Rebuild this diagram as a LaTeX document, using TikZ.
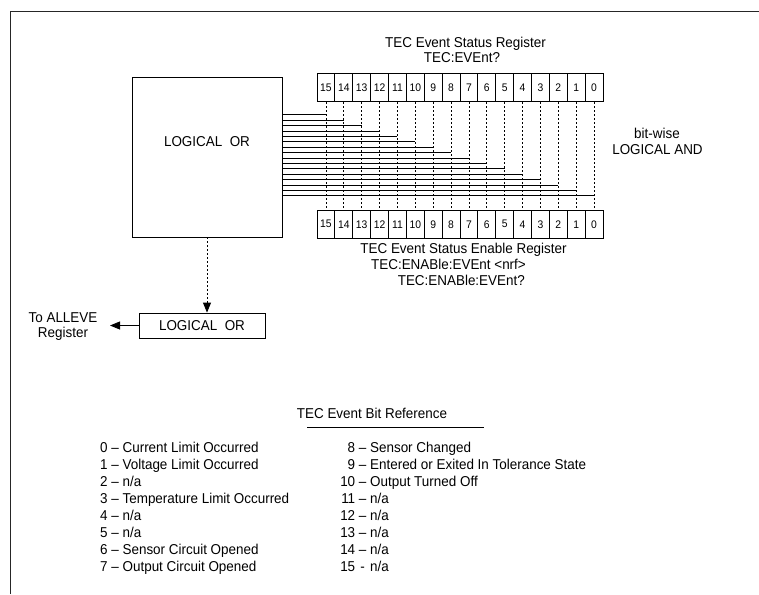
\documentclass[tikz,border=0pt]{standalone}
\usepackage{fontspec}
\setmainfont{Liberation Sans}[FakeStretch=0.94]
\usetikzlibrary{arrows.meta}
\begin{document}
\begin{tikzpicture}[x=1pt,y=-1pt,
  txt/.style={inner sep=0pt, font=\fontsize{14.3}{15}\selectfont},
  cell/.style={draw, line width=0.8pt, minimum width=17.875pt, minimum height=28pt, inner sep=0pt, font=\fontsize{11}{12}\selectfont},
  boxstyle/.style={draw, line width=0.8pt, inner sep=0pt},
  dotline/.style={line width=0.8pt, dash pattern=on 2pt off 2pt},
  hline/.style={line width=0.7pt},
  framestyle/.style={line width=0.8pt, black!85},
  tipstyle/.style={-{Triangle[length=10pt,width=8pt]}}]
\useasboundingbox (0,0) rectangle (759,594);
% page frame (open right and bottom)
\coordinate (f1) at (10,594);
\coordinate (f2) at (10,11);
\coordinate (f3) at (759,11);
\draw[framestyle] (f1) -- (f2) -- (f3);

% big OR box
\node[boxstyle, minimum width=150pt, minimum height=160pt] (bigor) at (207,157) {};
\node[txt, anchor=base] (orlab) at (207,146) {LOGICAL\ \ OR};

% registers
\foreach \b in {0,...,15} {
  \pgfmathsetmacro\xx{317+(15-\b+0.5)*17.875}
  \node[cell] (t\b) at (\xx,87.75) {\b};
  \node[cell] (b\b) at (\xx,224.25) {\b};
}
\foreach \b in {0,...,15} {
  \draw[dotline] (t\b.south) -- (b\b.north);
  \pgfmathsetmacro\yy{114.7+(15-\b)*5.4}
  \coordinate (h\b) at (0,\yy);
  \draw[hline] (bigor.east |- h\b) -- (t\b |- h\b);
}

% titles
\node[txt, anchor=base] (st1) at (465.5,48) {TEC Event Status Register};
\node[txt, anchor=base] (st2) at (462,63) {TEC:EVEnt?};
\node[txt, anchor=base] (en1) at (463.5,253) {TEC Event Status Enable Register};
\node[txt, anchor=base east] (en2) at (526,269) {TEC:ENABle:EVEnt <nrf>};
\node[txt, anchor=base east] (en3) at (525,285) {TEC:ENABle:EVEnt?};
\node[txt, anchor=base] (bw1) at (657,138) {bit-wise};
\node[txt, anchor=base] (bw2) at (657.5,154.5) {LOGICAL AND};

% small OR box and arrows
\node[boxstyle, txt, draw, line width=0.8pt, minimum width=126pt, minimum height=25pt] (smor) at (202,325.5) {LOGICAL\ \ OR};
\draw[dotline, tipstyle] (bigor.south) -- (bigor.south |- smor.north);
\coordinate (tip) at (110,325.5);
\draw[line width=0.8pt, tipstyle] (smor.west) -- (tip);
\node[txt, anchor=base] (al1) at (63,322) {To ALLEVE};
\node[txt, anchor=base] (al2) at (63,337) {Register};

% bit reference
\node[txt, anchor=base] (ref) at (372,418) {TEC Event Bit Reference};
\coordinate (u1) at (307,427);
\coordinate (u2) at (484,427);
\draw[line width=0.8pt] (u1) -- (u2);

\node[txt, anchor=base west] (l0) at (100,452) {0 – Current Limit Occurred};
\node[txt, anchor=base west] (l1) at (100,469) {1 – Voltage Limit Occurred};
\node[txt, anchor=base west] (l2) at (100,486) {2 – n/a};
\node[txt, anchor=base west] (l3) at (100,503) {3 – Temperature Limit Occurred};
\node[txt, anchor=base west] (l4) at (100,520) {4 – n/a};
\node[txt, anchor=base west] (l5) at (100,537) {5 – n/a};
\node[txt, anchor=base west] (l6) at (100,554) {6 – Sensor Circuit Opened};
\node[txt, anchor=base west] (l7) at (100,571) {7 – Output Circuit Opened};

\node[txt, anchor=base west] (r8) at (340,452) {\makebox[15pt][r]{8} – Sensor Changed};
\node[txt, anchor=base west] (r9) at (340,469) {\makebox[15pt][r]{9} – Entered or Exited In Tolerance State};
\node[txt, anchor=base west] (r10) at (340,486) {\makebox[15pt][r]{10} – Output Turned Off};
\node[txt, anchor=base west] (r11) at (340,503) {\makebox[15pt][r]{11} – n/a};
\node[txt, anchor=base west] (r12) at (340,520) {\makebox[15pt][r]{12} – n/a};
\node[txt, anchor=base west] (r13) at (340,537) {\makebox[15pt][r]{13} – n/a};
\node[txt, anchor=base west] (r14) at (340,554) {\makebox[15pt][r]{14} – n/a};
\node[txt, anchor=base west] (r15) at (340,571) {\makebox[15pt][r]{15} \makebox[7.5pt][c]{-} n/a};
\end{tikzpicture}
\end{document}
